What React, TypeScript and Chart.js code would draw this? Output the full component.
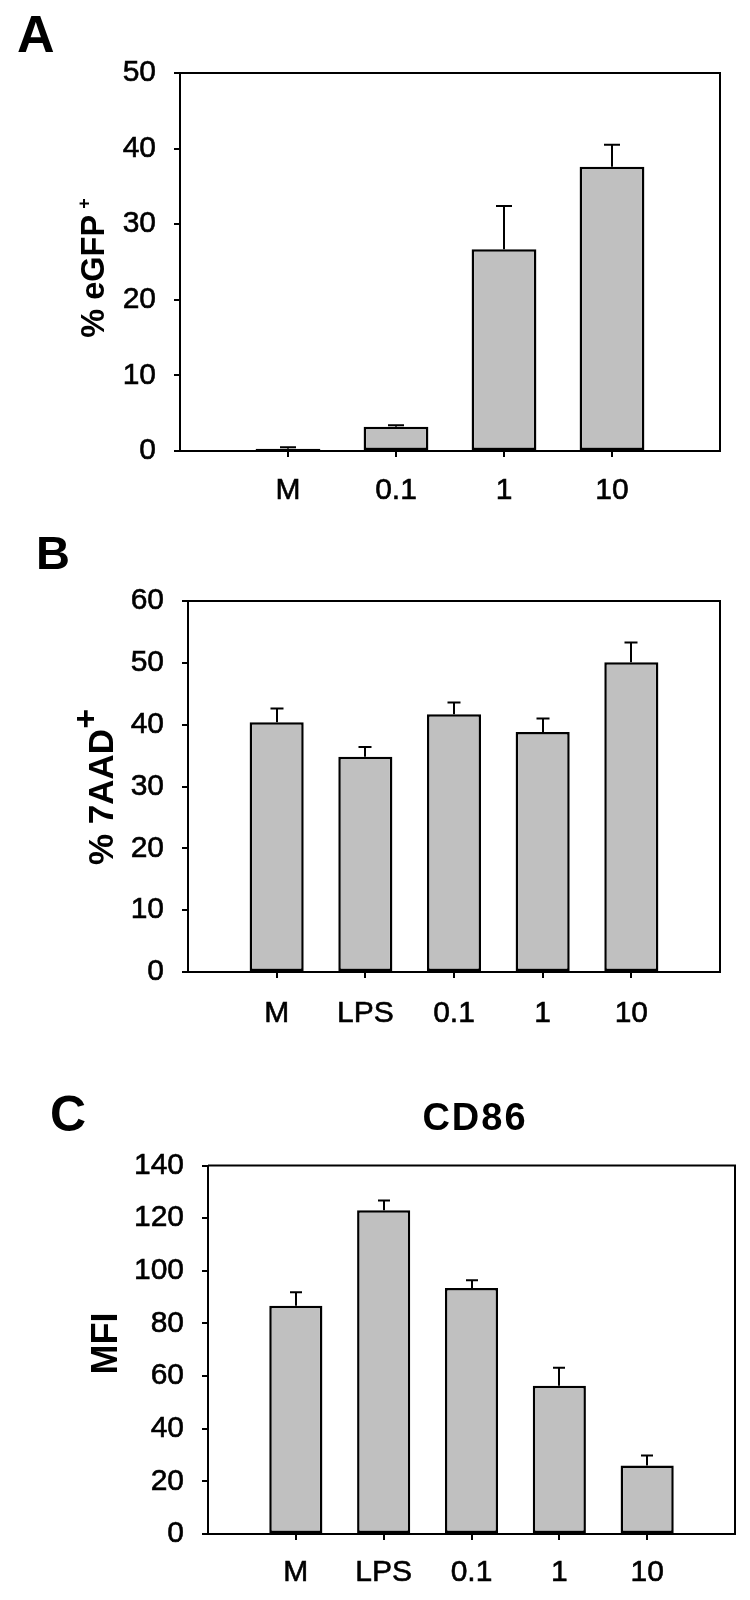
import React, { useEffect, useRef } from 'react';
import { Chart, registerables } from 'chart.js';

Chart.register(...registerables);

const FONT = "'Liberation Sans', Arial, Helvetica, sans-serif";

// ---- Data ----
const categoriesA = ['M', '0.1', '1', '10'];
const valuesA = [0.3, 3.2, 26.7, 37.6];
const errorsA = [0.2, 0.2, 5.7, 2.9];
const yMaxA = 50;
const yStepA = 10;

const categoriesB = ['M', 'LPS', '0.1', '1', '10'];
const valuesB = [40.4, 34.8, 41.7, 38.8, 50.1];
const errorsB = [2.2, 1.6, 1.9, 2.2, 3.2];
const yMaxB = 60;
const yStepB = 10;

const categoriesC = ['M', 'LPS', '0.1', '1', '10'];
const valuesC = [86.7, 123.0, 93.5, 56.3, 26.0];
const errorsC = [5.1, 3.7, 2.9, 6.9, 3.8];
const yMaxC = 140;
const yStepC = 20;

// ---- Plugins ----
const errorBarsPlugin = {
  id: 'errorBars',
  afterDatasetsDraw(chart: any, _args: any, opts: any) {
    const meta = chart.getDatasetMeta(0);
    const ds = chart.data.datasets[0];
    const y = chart.scales.y;
    const ctx = chart.ctx;
    const errs: (number | null)[] = opts.errors || [];
    const half = (opts.cap || 12) / 2;
    ctx.save();
    ctx.strokeStyle = '#000';
    ctx.lineWidth = 2;
    meta.data.forEach((bar: any, i: number) => {
      const v = ds.data[i];
      const e = errs[i];
      if (v == null || e == null) return;
      const top = y.getPixelForValue(v + e);
      const x = Math.round(bar.x);
      ctx.beginPath();
      ctx.moveTo(x, bar.y);
      ctx.lineTo(x, top);
      ctx.moveTo(x - half, top);
      ctx.lineTo(x + half, top);
      ctx.stroke();
    });
    ctx.restore();
  },
};

const framePlugin = {
  id: 'frame',
  afterDraw(chart: any) {
    const { ctx, chartArea } = chart;
    ctx.save();
    ctx.strokeStyle = '#000';
    ctx.lineWidth = 2;
    ctx.beginPath();
    ctx.moveTo(chartArea.left, chartArea.top);
    ctx.lineTo(chartArea.right, chartArea.top);
    ctx.lineTo(chartArea.right, chartArea.bottom);
    ctx.stroke();
    ctx.restore();
  },
};

const textPlugin = {
  id: 'panelText',
  afterDraw(chart: any, _args: any, opts: any) {
    const ctx = chart.ctx;
    ctx.save();
    ctx.fillStyle = '#000';
    ctx.strokeStyle = '#000';
    ctx.textBaseline = 'alphabetic';
    if (opts.letter) {
      const l = opts.letter;
      ctx.font = `bold ${l.size}px ${FONT}`;
      ctx.textAlign = 'left';
      ctx.fillText(l.text, l.x, l.y);
    }
    if (opts.title) {
      const t = opts.title;
      ctx.font = `bold ${t.size}px ${FONT}`;
      (ctx as any).letterSpacing = `${t.spacing || 0}px`;
      ctx.textAlign = 'center';
      ctx.fillText(t.text, t.x, t.y);
      (ctx as any).letterSpacing = '0px';
    }
    if (opts.yTitle) {
      const t = opts.yTitle;
      ctx.translate(t.x, t.cy);
      ctx.rotate(-Math.PI / 2);
      ctx.textAlign = 'left';
      ctx.font = `bold ${t.size}px ${FONT}`;
      const mainW = ctx.measureText(t.text).width;
      let supW = 0;
      if (t.sup) {
        ctx.font = `bold ${t.supSize}px ${FONT}`;
        supW = ctx.measureText(t.sup).width + (t.supGap || 0);
      }
      const start = -(mainW + supW) / 2;
      ctx.font = `bold ${t.size}px ${FONT}`;
      ctx.fillText(t.text, start, 0);
      if (t.sup) {
        ctx.font = `bold ${t.supSize}px ${FONT}`;
        ctx.fillText(t.sup, start + mainW + (t.supGap || 0), -t.raise);
      }
    }
    ctx.restore();
  },
};

type PanelCfg = {
  top: number;
  height: number;
  categories: string[];
  values: number[];
  errors: number[];
  yMax: number;
  yStep: number;
  area: { left: number; right: number; top: number; bottom: number };
  barPct: number;
  xPad: number;
  cap: number;
  letter: any;
  title?: any;
  yTitle: any;
};

const W = 750;

function Panel({ cfg }: { cfg: PanelCfg }) {
  const ref = useRef<HTMLCanvasElement | null>(null);
  useEffect(() => {
    if (!ref.current) return;
    const labels = ['', ...cfg.categories, ''];
    const data = [null, ...cfg.values, null];
    const errors = [null, ...cfg.errors, null];
    const last = labels.length - 1;
    const H = cfg.height;
    const a = cfg.area;
    const tickFont = { family: FONT, size: 30 };
    const chart = new Chart(ref.current, {
      type: 'bar',
      data: {
        labels,
        datasets: [
          {
            data: data as any,
            backgroundColor: '#c0c0c0',
            borderColor: '#000',
            borderWidth: 2.5,
            borderSkipped: false,
            barPercentage: cfg.barPct,
            categoryPercentage: 1,
          },
        ],
      },
      options: {
        responsive: false,
        animation: false,
        devicePixelRatio: 1,
        layout: { padding: { left: 0, top: a.top, right: W - a.right, bottom: 0 } },
        plugins: {
          legend: { display: false },
          tooltip: { enabled: false },
          title: { display: false },
          errorBars: { errors, cap: cfg.cap },
          panelText: { letter: cfg.letter, title: cfg.title, yTitle: cfg.yTitle },
        } as any,
        scales: {
          x: {
            offset: false,
            grid: {
              offset: false,
              drawOnChartArea: false,
              drawTicks: true,
              tickLength: 6,
              lineWidth: 2,
              color: (c: any) => (c.index === 0 || c.index === last ? 'rgba(0,0,0,0)' : '#000'),
            },
            border: { display: true, color: '#000', width: 2 },
            ticks: {
              font: tickFont,
              color: '#000',
              textStrokeColor: '#000',
              textStrokeWidth: 0.6,
              padding: cfg.xPad,
              autoSkip: false,
              maxRotation: 0,
              minRotation: 0,
            },
            afterFit: (s: any) => {
              s.height = H - a.bottom;
            },
          },
          y: {
            min: 0,
            max: cfg.yMax,
            grid: {
              drawOnChartArea: false,
              drawTicks: true,
              tickLength: 6,
              lineWidth: 2,
              color: '#000',
            },
            border: { display: true, color: '#000', width: 2 },
            ticks: {
              stepSize: cfg.yStep,
              font: tickFont,
              color: '#000',
              textStrokeColor: '#000',
              textStrokeWidth: 0.6,
              padding: 18,
            },
            afterFit: (s: any) => {
              s.width = a.left;
            },
          },
        },
      } as any,
      plugins: [errorBarsPlugin, framePlugin, textPlugin] as any,
    });
    return () => chart.destroy();
  }, [cfg]);
  return (
    <canvas
      ref={ref}
      width={W}
      height={cfg.height}
      style={{ position: 'absolute', left: 0, top: cfg.top, width: W, height: cfg.height, display: 'block' }}
    />
  );
}

const panelA: PanelCfg = {
  top: 0,
  height: 530,
  categories: categoriesA,
  values: valuesA,
  errors: errorsA,
  yMax: yMaxA,
  yStep: yStepA,
  area: { left: 180, right: 720, top: 73, bottom: 451 },
  barPct: 0.6,
  xPad: 16,
  cap: 16,
  letter: { text: 'A', x: 17, y: 52, size: 52 },
  yTitle: { text: '% eGFP', sup: '+', x: 104, cy: 268, size: 32.5, supSize: 18, raise: 14, supGap: 6 },
};

const panelB: PanelCfg = {
  top: 530,
  height: 530,
  categories: categoriesB,
  values: valuesB,
  errors: errorsB,
  yMax: yMaxB,
  yStep: yStepB,
  area: { left: 188, right: 720, top: 71, bottom: 442 },
  barPct: 0.61,
  xPad: 18,
  cap: 13,
  letter: { text: 'B', x: 36, y: 39, size: 47 },
  yTitle: { text: '% 7AAD', sup: '+', x: 113, cy: 257, size: 35, supSize: 34, raise: 16, supGap: 0 },
};

const panelC: PanelCfg = {
  top: 1060,
  height: 540,
  categories: categoriesC,
  values: valuesC,
  errors: errorsC,
  yMax: yMaxC,
  yStep: yStepC,
  area: { left: 208, right: 736, top: 105.5, bottom: 474 },
  barPct: 0.605,
  xPad: 15,
  cap: 12,
  letter: { text: 'C', x: 50, y: 71, size: 50 },
  title: { text: 'CD86', x: 475, y: 70, size: 38, spacing: 2 },
  yTitle: { text: 'MFI', x: 117, cy: 283.5, size: 36 },
};

export default function App() {
  return (
    <div style={{ position: 'absolute', left: 0, top: 0, width: 750, height: 1600, background: '#fff' }}>
      <Panel cfg={panelA} />
      <Panel cfg={panelB} />
      <Panel cfg={panelC} />
    </div>
  );
}
